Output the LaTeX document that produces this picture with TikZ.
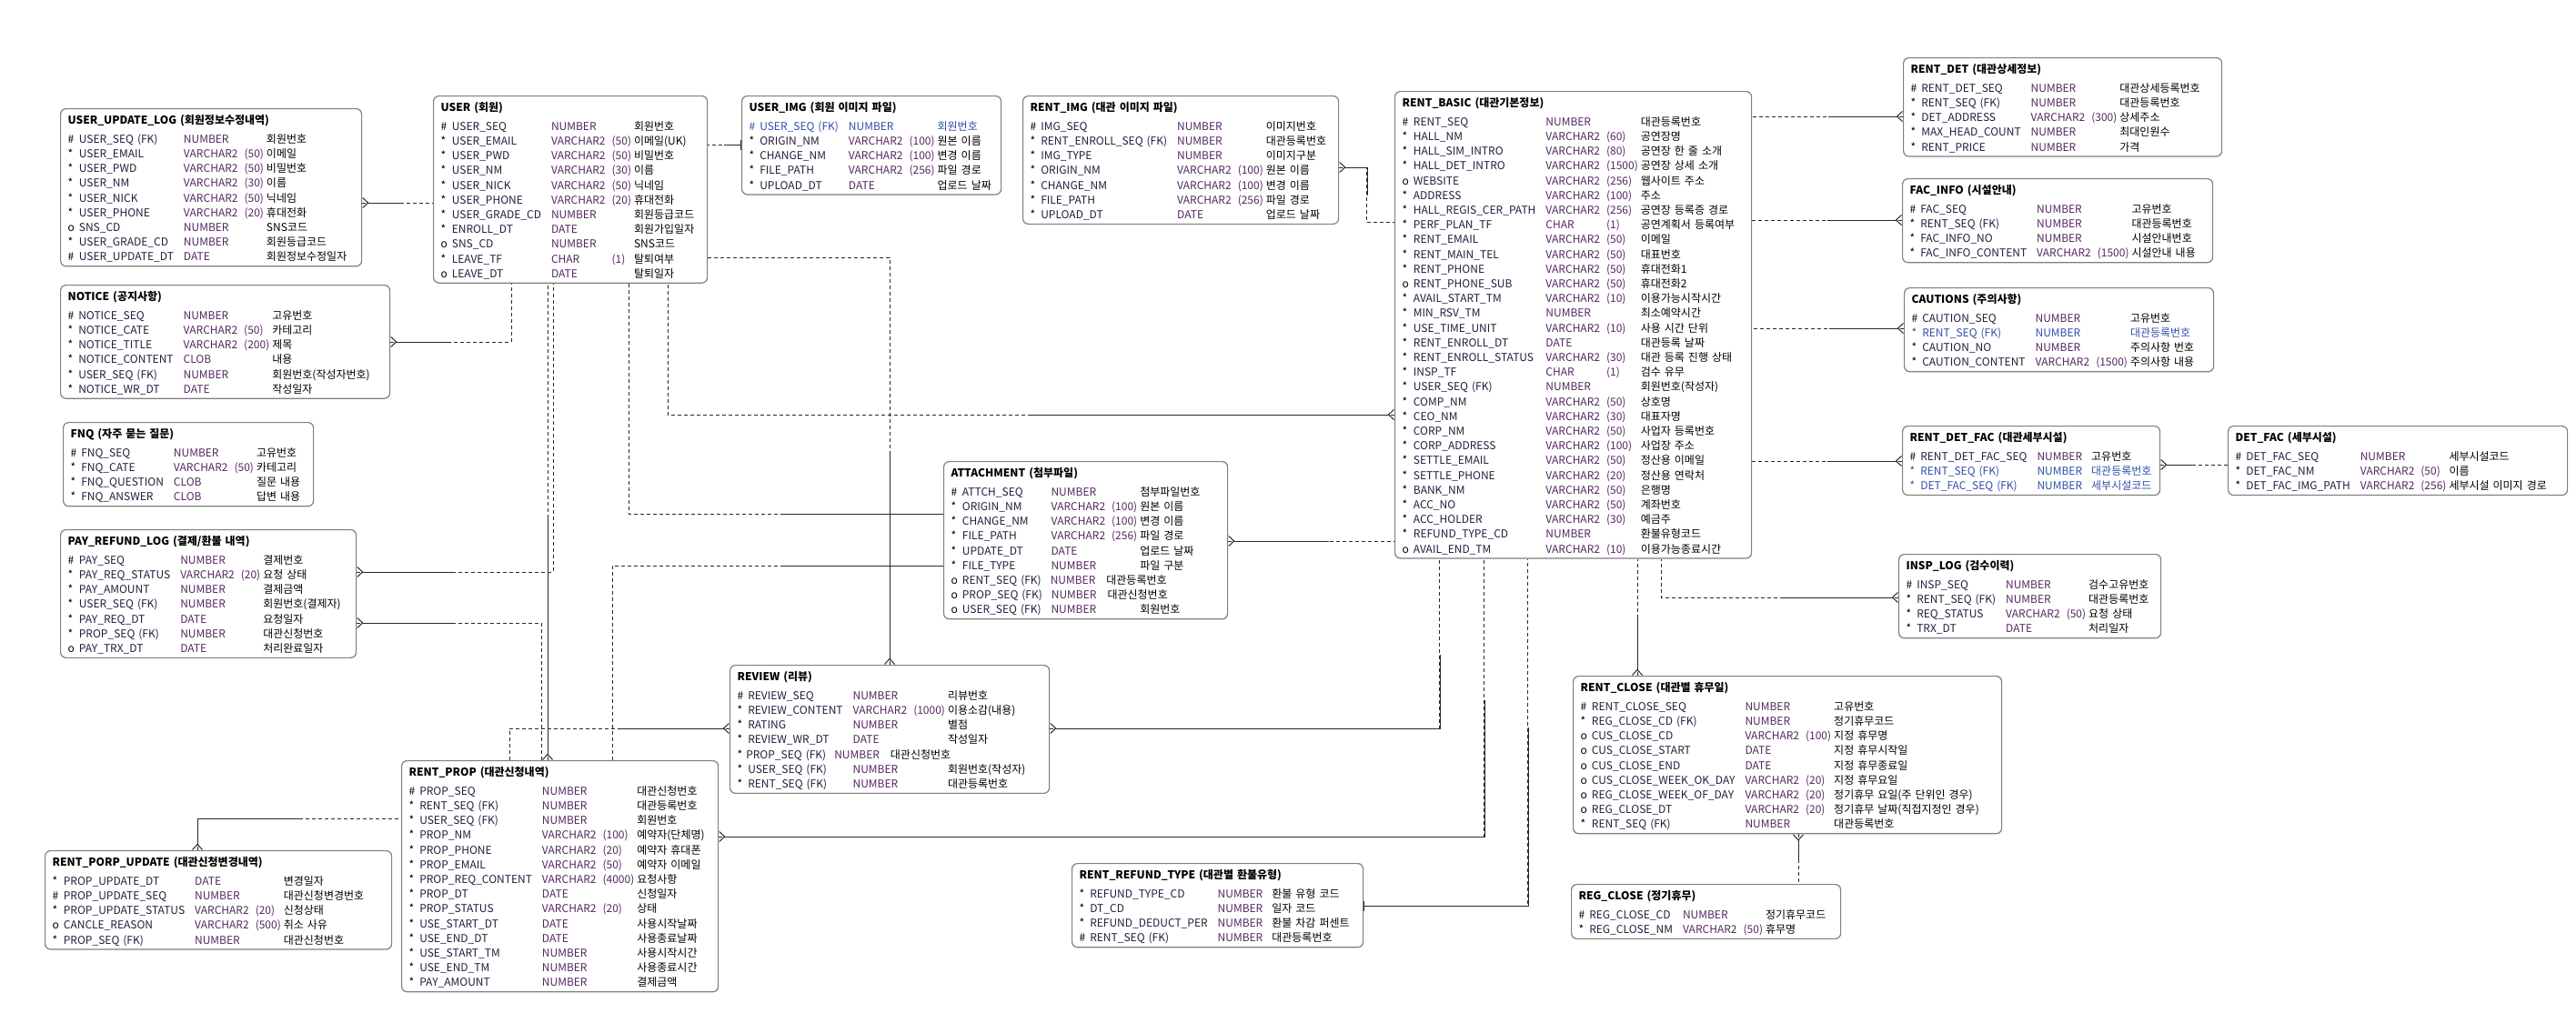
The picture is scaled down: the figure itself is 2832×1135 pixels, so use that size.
\documentclass[tikz,border=0pt]{standalone}
\usepackage{fontspec}
\setmainfont{Noto Sans CJK KR}
\usepackage{array}
\usetikzlibrary{arrows.meta}
\definecolor{boxline}{RGB}{128,128,128}
\definecolor{linecol}{RGB}{40,40,40}
\definecolor{nm}{RGB}{35,30,60}
\definecolor{ty}{RGB}{85,40,95}
\definecolor{fkblue}{RGB}{50,80,170}
\begin{document}
\begin{tikzpicture}[x=1pt, y=-1pt,
  tbl/.style={draw=boxline, line width=1.2pt, rounded corners=6pt, fill=white,
    anchor=north west, inner xsep=8pt, inner ysep=1pt, align=left,
    font=\fontsize{12}{16.2}\selectfont},
  sld/.style={draw=linecol, line width=1pt},
  dsh/.style={sld, dash pattern=on 4pt off 3pt},
  crow/.style={sld, {Straight Barb[reversed, length=6pt, width=11pt]}-},
  one/.style={sld, {Bar[width=11pt]}-}]
\def\ttl#1{\multicolumn{5}{@{}l@{}}{\rule{0pt}{16pt}\bfseries #1}\\[4.5pt]}
\def\fk{\color{fkblue}}
\newcolumntype{E}{@{}l@{\hspace{5pt}}>{\color{nm}}l@{\hspace{11pt}}>{\color{ty}}l@{\hspace{7pt}}>{\color{ty}}l@{\hspace{3pt}}l@{}}
\path[fill=white, use as bounding box] (0,0) rectangle (2832,1135);
% left column
\node (uul) at (66,119) [tbl, text width=315pt] {\begin{tabular}{E}
\ttl{USER\_UPDATE\_LOG (회원정보수정내역)}
\# & USER\_SEQ (FK) & NUMBER & & 회원번호\\
{*} & USER\_EMAIL & VARCHAR2 & (50) & 이메일\\
{*} & USER\_PWD & VARCHAR2 & (50) & 비밀번호\\
{*} & USER\_NM & VARCHAR2 & (30) & 이름\\
{*} & USER\_NICK & VARCHAR2 & (50) & 닉네임\\
{*} & USER\_PHONE & VARCHAR2 & (20) & 휴대전화\\
o & SNS\_CD & NUMBER & & SNS코드\\
{*} & USER\_GRADE\_CD & NUMBER & & 회원등급코드\\
\# & USER\_UPDATE\_DT & DATE & & 회원정보수정일자
\end{tabular}};
\node (notice) at (66,313) [tbl, text width=346pt] {\begin{tabular}{E}
\ttl{NOTICE (공지사항)}
\# & NOTICE\_SEQ & NUMBER & & 고유번호\\
{*} & NOTICE\_CATE & VARCHAR2 & (50) & 카테고리\\
{*} & NOTICE\_TITLE & VARCHAR2 & (200) & 제목\\
{*} & NOTICE\_CONTENT & CLOB & & 내용\\
{*} & USER\_SEQ (FK) & NUMBER & & 회원번호(작성자번호)\\
{*} & NOTICE\_WR\_DT & DATE & & 작성일자
\end{tabular}};
\node (fnq) at (69,464) [tbl, text width=259pt] {\begin{tabular}{E}
\ttl{FNQ (자주 묻는 질문)}
\# & FNQ\_SEQ & NUMBER & & 고유번호\\
{*} & FNQ\_CATE & VARCHAR2 & (50) & 카테고리\\
{*} & FNQ\_QUESTION & CLOB & & 질문 내용\\
{*} & FNQ\_ANSWER & CLOB & & 답변 내용
\end{tabular}};
\node (pay) at (66,582) [tbl, text width=309pt] {\begin{tabular}{E}
\ttl{PAY\_REFUND\_LOG (결제/환불 내역)}
\# & PAY\_SEQ & NUMBER & & 결제번호\\
{*} & PAY\_REQ\_STATUS & VARCHAR2 & (20) & 요청 상태\\
{*} & PAY\_AMOUNT & NUMBER & & 결제금액\\
{*} & USER\_SEQ (FK) & NUMBER & & 회원번호(결제자)\\
{*} & PAY\_REQ\_DT & DATE & & 요청일자\\
{*} & PROP\_SEQ (FK) & NUMBER & & 대관신청번호\\
o & PAY\_TRX\_DT & DATE & & 처리완료일자
\end{tabular}};
\node (porp) at (49,935) [tbl, text width=365pt] {\begin{tabular}{E}
\ttl{RENT\_PORP\_UPDATE (대관신청변경내역)}
{*} & PROP\_UPDATE\_DT & DATE & & 변경일자\\
\# & PROP\_UPDATE\_SEQ & NUMBER & & 대관신청변경번호\\
{*} & PROP\_UPDATE\_STATUS & VARCHAR2 & (20) & 신청상태\\
o & CANCLE\_REASON & VARCHAR2 & (500) & 취소 사유\\
{*} & PROP\_SEQ (FK) & NUMBER & & 대관신청번호
\end{tabular}};
% middle
\node (user) at (476,105) [tbl, text width=285pt] {\begin{tabular}{E}
\ttl{USER (회원)}
\# & USER\_SEQ & NUMBER & & 회원번호\\
{*} & USER\_EMAIL & VARCHAR2 & (50) & 이메일(UK)\\
{*} & USER\_PWD & VARCHAR2 & (50) & 비밀번호\\
{*} & USER\_NM & VARCHAR2 & (30) & 이름\\
{*} & USER\_NICK & VARCHAR2 & (50) & 닉네임\\
{*} & USER\_PHONE & VARCHAR2 & (20) & 휴대전화\\
{*} & USER\_GRADE\_CD & NUMBER & & 회원등급코드\\
{*} & ENROLL\_DT & DATE & & 회원가입일자\\
o & SNS\_CD & NUMBER & & SNS코드\\
{*} & LEAVE\_TF & CHAR & (1) & 탈퇴여부\\
o & LEAVE\_DT & DATE & & 탈퇴일자
\end{tabular}};
\node (uimg) at (815,105) [tbl, text width=269pt] {\begin{tabular}{E}
\ttl{USER\_IMG (회원 이미지 파일)}
\fk\# & \fk USER\_SEQ (FK) & \fk NUMBER & & \fk 회원번호\\
{*} & ORIGIN\_NM & VARCHAR2 & (100) & 원본 이름\\
{*} & CHANGE\_NM & VARCHAR2 & (100) & 변경 이름\\
{*} & FILE\_PATH & VARCHAR2 & (256) & 파일 경로\\
{*} & UPLOAD\_DT & DATE & & 업로드 날짜
\end{tabular}};
\node (rimg) at (1124,105) [tbl, text width=331pt] {\begin{tabular}{E}
\ttl{RENT\_IMG (대관 이미지 파일)}
\# & IMG\_SEQ & NUMBER & & 이미지번호\\
{*} & RENT\_ENROLL\_SEQ (FK) & NUMBER & & 대관등록번호\\
{*} & IMG\_TYPE & NUMBER & & 이미지구분\\
{*} & ORIGIN\_NM & VARCHAR2 & (100) & 원본 이름\\
{*} & CHANGE\_NM & VARCHAR2 & (100) & 변경 이름\\
{*} & FILE\_PATH & VARCHAR2 & (256) & 파일 경로\\
{*} & UPLOAD\_DT & DATE & & 업로드 날짜
\end{tabular}};
\node (attch) at (1037,507) [tbl, text width=296pt] {\begin{tabular}{E}
\ttl{ATTACHMENT (첨부파일)}
\# & ATTCH\_SEQ & NUMBER & & 첨부파일번호\\
{*} & ORIGIN\_NM & VARCHAR2 & (100) & 원본 이름\\
{*} & CHANGE\_NM & VARCHAR2 & (100) & 변경 이름\\
{*} & FILE\_PATH & VARCHAR2 & (256) & 파일 경로\\
{*} & UPDATE\_DT & DATE & & 업로드 날짜\\
{*} & FILE\_TYPE & NUMBER & & 파일 구분\\
o & \multicolumn{4}{@{}l@{}}{\color{nm}RENT\_SEQ (FK)\hspace{10pt}\color{ty}NUMBER\hspace{12pt}\color{black}대관등록번호}\\
o & \multicolumn{4}{@{}l@{}}{\color{nm}PROP\_SEQ (FK)\hspace{10pt}\color{ty}NUMBER\hspace{12pt}\color{black}대관신청번호}\\
o & USER\_SEQ (FK) & NUMBER & & 회원번호
\end{tabular}};
\node (review) at (802,731) [tbl, text width=335pt] {\begin{tabular}{E}
\ttl{REVIEW (리뷰)}
\# & REVIEW\_SEQ & NUMBER & & 리뷰번호\\
{*} & REVIEW\_CONTENT & VARCHAR2 & (1000) & 이용소감(내용)\\
{*} & RATING & NUMBER & & 별점\\
{*} & REVIEW\_WR\_DT & DATE & & 작성일자\\
{*} & \multicolumn{4}{@{}l@{}}{\hspace{-2pt}\color{nm}PROP\_SEQ (FK)\hspace{9pt}\color{ty}NUMBER\hspace{12pt}\color{black}대관신청번호}\\
{*} & USER\_SEQ (FK) & NUMBER & & 회원번호(작성자)\\
{*} & RENT\_SEQ (FK) & NUMBER & & 대관등록번호
\end{tabular}};
\node (prop) at (441,836) [tbl, text width=332pt] {\begin{tabular}{E}
\ttl{RENT\_PROP (대관신청내역)}
\# & PROP\_SEQ & NUMBER & & 대관신청번호\\
{*} & RENT\_SEQ (FK) & NUMBER & & 대관등록번호\\
{*} & USER\_SEQ (FK) & NUMBER & & 회원번호\\
{*} & PROP\_NM & VARCHAR2 & (100) & 예약자(단체명)\\
{*} & PROP\_PHONE & VARCHAR2 & (20) & 예약자 휴대폰\\
{*} & PROP\_EMAIL & VARCHAR2 & (50) & 예약자 이메일\\
{*} & PROP\_REQ\_CONTENT & VARCHAR2 & (4000) & 요청사항\\
{*} & PROP\_DT & DATE & & 신청일자\\
{*} & PROP\_STATUS & VARCHAR2 & (20) & 상태\\
{*} & USE\_START\_DT & DATE & & 사용시작날짜\\
{*} & USE\_END\_DT & DATE & & 사용종료날짜\\
{*} & USE\_START\_TM & NUMBER & & 사용시작시간\\
{*} & USE\_END\_TM & NUMBER & & 사용종료시간\\
{*} & PAY\_AMOUNT & NUMBER & & 결제금액
\end{tabular}};
\node (refund) at (1178,949) [tbl, text width=304pt] {\begin{tabular}{E}
\ttl{RENT\_REFUND\_TYPE (대관별 환불유형)}
{*} & REFUND\_TYPE\_CD & NUMBER & & 환불 유형 코드\\
{*} & DT\_CD & NUMBER & & 일자 코드\\
{*} & REFUND\_DEDUCT\_PER & NUMBER & & 환불 차감 퍼센트\\
\# & RENT\_SEQ (FK) & NUMBER & & 대관등록번호
\end{tabular}};
% rent side
\node (basic) at (1533,100) [tbl, text width=376pt] {\begin{tabular}{E}
\ttl{RENT\_BASIC (대관기본정보)}
\# & RENT\_SEQ & NUMBER & & 대관등록번호\\
{*} & HALL\_NM & VARCHAR2 & (60) & 공연장명\\
{*} & HALL\_SIM\_INTRO & VARCHAR2 & (80) & 공연장 한 줄 소개\\
{*} & HALL\_DET\_INTRO & VARCHAR2 & (1500) & 공연장 상세 소개\\
o & WEBSITE & VARCHAR2 & (256) & 웹사이트 주소\\
{*} & ADDRESS & VARCHAR2 & (100) & 주소\\
{*} & HALL\_REGIS\_CER\_PATH & VARCHAR2 & (256) & 공연장 등록증 경로\\
{*} & PERF\_PLAN\_TF & CHAR & (1) & 공연계획서 등록여부\\
{*} & RENT\_EMAIL & VARCHAR2 & (50) & 이메일\\
{*} & RENT\_MAIN\_TEL & VARCHAR2 & (50) & 대표번호\\
{*} & RENT\_PHONE & VARCHAR2 & (50) & 휴대전화1\\
o & RENT\_PHONE\_SUB & VARCHAR2 & (50) & 휴대전화2\\
{*} & AVAIL\_START\_TM & VARCHAR2 & (10) & 이용가능시작시간\\
{*} & MIN\_RSV\_TM & NUMBER & & 최소예약시간\\
{*} & USE\_TIME\_UNIT & VARCHAR2 & (10) & 사용 시간 단위\\
{*} & RENT\_ENROLL\_DT & DATE & & 대관등록 날짜\\
{*} & RENT\_ENROLL\_STATUS & VARCHAR2 & (30) & 대관 등록 진행 상태\\
{*} & INSP\_TF & CHAR & (1) & 검수 유무\\
{*} & USER\_SEQ (FK) & NUMBER & & 회원번호(작성자)\\
{*} & COMP\_NM & VARCHAR2 & (50) & 상호명\\
{*} & CEO\_NM & VARCHAR2 & (30) & 대표자명\\
{*} & CORP\_NM & VARCHAR2 & (50) & 사업자 등록번호\\
{*} & CORP\_ADDRESS & VARCHAR2 & (100) & 사업장 주소\\
{*} & SETTLE\_EMAIL & VARCHAR2 & (50) & 정산용 이메일\\
{*} & SETTLE\_PHONE & VARCHAR2 & (20) & 정산용 연락처\\
{*} & BANK\_NM & VARCHAR2 & (50) & 은행명\\
{*} & ACC\_NO & VARCHAR2 & (50) & 계좌번호\\
{*} & ACC\_HOLDER & VARCHAR2 & (30) & 예금주\\
{*} & REFUND\_TYPE\_CD & NUMBER & & 환불유형코드\\
o & AVAIL\_END\_TM & VARCHAR2 & (10) & 이용가능종료시간
\end{tabular}};
\node (det) at (2092,63) [tbl, text width=334pt] {\begin{tabular}{E}
\ttl{RENT\_DET (대관상세정보)}
\# & RENT\_DET\_SEQ & NUMBER & & 대관상세등록번호\\
{*} & RENT\_SEQ (FK) & NUMBER & & 대관등록번호\\
{*} & DET\_ADDRESS & VARCHAR2 & (300) & 상세주소\\
{*} & MAX\_HEAD\_COUNT & NUMBER & & 최대인원수\\
{*} & RENT\_PRICE & NUMBER & & 가격
\end{tabular}};
\node (fac) at (2091,196) [tbl, text width=325pt] {\begin{tabular}{E}
\ttl{FAC\_INFO (시설안내)}
\# & FAC\_SEQ & NUMBER & & 고유번호\\
{*} & RENT\_SEQ (FK) & NUMBER & & 대관등록번호\\
{*} & FAC\_INFO\_NO & NUMBER & & 시설안내번호\\
{*} & FAC\_INFO\_CONTENT & VARCHAR2 & (1500) & 시설안내 내용
\end{tabular}};
\node (caut) at (2093,316) [tbl, text width=324pt] {\begin{tabular}{E}
\ttl{CAUTIONS (주의사항)}
\# & CAUTION\_SEQ & NUMBER & & 고유번호\\
\fk{*} & \fk RENT\_SEQ (FK) & \fk NUMBER & & \fk 대관등록번호\\
{*} & CAUTION\_NO & NUMBER & & 주의사항 번호\\
{*} & CAUTION\_CONTENT & VARCHAR2 & (1500) & 주의사항 내용
\end{tabular}};
\node (rdf) at (2091,468) [tbl, text width=267pt] {\begin{tabular}{E}
\ttl{RENT\_DET\_FAC (대관세부시설)}
\# & RENT\_DET\_FAC\_SEQ & NUMBER & & 고유번호\\
\fk{*} & \fk RENT\_SEQ (FK) & \fk NUMBER & & \fk 대관등록번호\\
\fk{*} & \fk DET\_FAC\_SEQ (FK) & \fk NUMBER & & \fk 세부시설코드
\end{tabular}};
\node (dfac) at (2449,468) [tbl, text width=357pt] {\begin{tabular}{E}
\ttl{DET\_FAC (세부시설)}
\# & DET\_FAC\_SEQ & NUMBER & & 세부시설코드\\
{*} & DET\_FAC\_NM & VARCHAR2 & (50) & 이름\\
{*} & DET\_FAC\_IMG\_PATH & VARCHAR2 & (256) & 세부시설 이미지 경로
\end{tabular}};
\node (insp) at (2087,609) [tbl, text width=272pt] {\begin{tabular}{E}
\ttl{INSP\_LOG (검수이력)}
\# & INSP\_SEQ & NUMBER & & 검수고유번호\\
{*} & RENT\_SEQ (FK) & NUMBER & & 대관등록번호\\
{*} & REQ\_STATUS & VARCHAR2 & (50) & 요청 상태\\
{*} & TRX\_DT & DATE & & 처리일자
\end{tabular}};
\node (close) at (1729,743) [tbl, text width=455pt] {\begin{tabular}{E}
\ttl{RENT\_CLOSE (대관별 휴무일)}
\# & RENT\_CLOSE\_SEQ & NUMBER & & 고유번호\\
{*} & REG\_CLOSE\_CD (FK) & NUMBER & & 정기휴무코드\\
o & CUS\_CLOSE\_CD & VARCHAR2 & (100) & 지정 휴무명\\
o & CUS\_CLOSE\_START & DATE & & 지정 휴무시작일\\
o & CUS\_CLOSE\_END & DATE & & 지정 휴무종료일\\
o & CUS\_CLOSE\_WEEK\_OK\_DAY & VARCHAR2 & (20) & 지정 휴무요일\\
o & REG\_CLOSE\_WEEK\_OF\_DAY & VARCHAR2 & (20) & 정기휴무 요일(주 단위인 경우)\\
o & REG\_CLOSE\_DT & VARCHAR2 & (20) & 정기휴무 날짜(직접지정인 경우)\\
{*} & RENT\_SEQ (FK) & NUMBER & & 대관등록번호
\end{tabular}};
\node (regclose) at (1727,972) [tbl, text width=280pt] {\begin{tabular}{E}
\ttl{REG\_CLOSE (정기휴무)}
\# & REG\_CLOSE\_CD & NUMBER & & 정기휴무코드\\
{*} & REG\_CLOSE\_NM & VARCHAR2 & (50) & 휴무명
\end{tabular}};
% relations to USER
\draw[dsh] (uul.east |- 0,223) -- (user.west |- 0,223);
\draw[crow] (uul.east |- 0,223) -- +(43,0);
\draw[dsh] (notice.east |- 0,376) -| (user.south -| 562,0);
\draw[crow] (notice.east |- 0,376) -- +(67,0);
\draw[dsh] (uimg.west |- 0,159) -- (user.east |- 0,159);
\draw[one] (uimg.west |- 0,159) -- +(-19,0);
\draw[dsh] (pay.east |- 0,629) -| (user.south -| 608,0);
\draw[crow] (pay.east |- 0,629) -- +(109,0);
\draw[dsh] (prop.north -| 602,0) -- (user.south -| 602,0);
\draw[crow] (prop.north -| 602,0) -- +(0,-266);
\draw[dsh] (basic.west |- 0,456) -| (user.south -| 734,0);
\draw[crow] (basic.west |- 0,456) -- +(-403,0);
\draw[dsh] (review.north -| 978,0) |- (user.east |- 0,283);
\draw[crow] (review.north -| 978,0) -- +(0,-231);
\draw[dsh] (attch.west |- 0,565) -| (user.south -| 691,0);
\draw[sld] (attch.west |- 0,565) -- +(-177,0);
% relations to RENT_PROP
\draw[dsh] (pay.east |- 0,685) -| (prop.north -| 595,0);
\draw[crow] (pay.east |- 0,685) -- +(109,0);
\draw[dsh] (attch.west |- 0,622) -| (prop.north -| 673,0);
\draw[sld] (attch.west |- 0,622) -- +(-177,0);
\draw[dsh] (review.west |- 0,801) -| (prop.north -| 560,0);
\draw[crow] (review.west |- 0,801) -- +(-122,0);
\draw[dsh] (porp.north -| 217,0) |- (prop.west |- 0,900);
\draw[crow] (porp.north -| 217,0) |- +(113,-35);
% relations to RENT_BASIC
\draw[dsh] (rimg.east |- 0,184) -| (1502,244) -- (basic.west |- 0,244);
\draw[crow] (rimg.east |- 0,184) -| +(31,31);
\draw[dsh] (attch.east |- 0,595) -- (basic.west |- 0,595);
\draw[crow] (attch.east |- 0,595) -- +(111,0);
\draw[dsh] (det.west |- 0,128) -- (basic.east |- 0,128);
\draw[crow] (det.west |- 0,128) -- +(-82,0);
\draw[dsh] (fac.west |- 0,242) -- (basic.east |- 0,242);
\draw[crow] (fac.west |- 0,242) -- +(-82,0);
\draw[dsh] (caut.west |- 0,361) -- (basic.east |- 0,361);
\draw[crow] (caut.west |- 0,361) -- +(-82,0);
\draw[dsh] (rdf.west |- 0,507) -- (basic.east |- 0,507);
\draw[crow] (rdf.west |- 0,507) -- +(-82,0);
\draw[dsh] (review.east |- 0,801) -| (basic.south -| 1582,0);
\draw[crow] (review.east |- 0,801) -| +(429,-81);
\draw[dsh] (prop.east |- 0,920) -| (basic.south -| 1631,0);
\draw[crow] (prop.east |- 0,920) -| +(842,-150);
\draw[dsh] (refund.east |- 0,996) -| (basic.south -| 1679,0);
\draw[one] (refund.east |- 0,996) -| +(181,-196);
\draw[dsh] (close.north -| 1800,0) -- (basic.south -| 1800,0);
\draw[crow] (close.north -| 1800,0) -- +(0,-63);
\draw[dsh] (insp.west |- 0,657) -| (basic.south -| 1826,0);
\draw[crow] (insp.west |- 0,657) -- +(-127,0);
% other relations
\draw[dsh] (rdf.east |- 0,511) -- (dfac.west |- 0,511);
\draw[crow] (rdf.east |- 0,511) -- +(38,0);
\draw[dsh] (close.south -| 1977,0) -- (regclose.north -| 1977,0);
\draw[crow] (close.south -| 1977,0) -- +(0,29);
\end{tikzpicture}
\end{document}
